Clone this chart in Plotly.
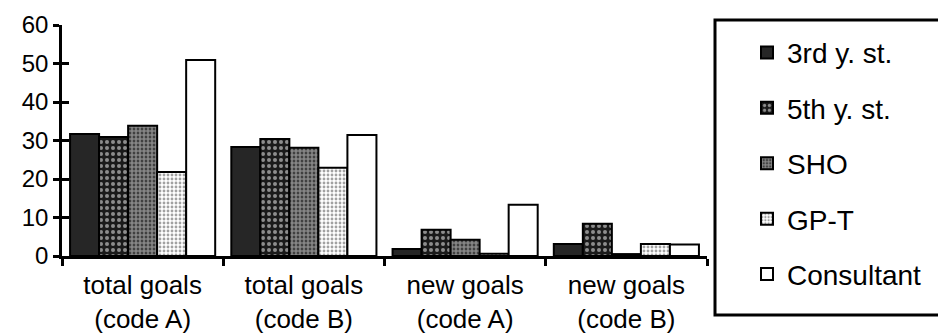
import plotly.graph_objects as go

categories = ["total goals<br>(code A)", "total goals<br>(code B)",
              "new goals<br>(code A)", "new goals<br>(code B)"]
series_names = ["3rd y. st.", "5th y. st.", "SHO", "GP-T", "Consultant"]
third_year = [31.7, 28.3, 1.8, 3.1]
fifth_year = [30.9, 30.4, 6.8, 8.4]
sho = [33.8, 28.1, 4.2, 0.5]
gp_t = [21.8, 22.9, 0.6, 3.1]
consultant = [50.9, 31.4, 13.3, 3.0]
y_ticks = [0, 10, 20, 30, 40, 50, 60]

series_values = [third_year, fifth_year, sho, gp_t, consultant]
patterns = [
    dict(shape="", bgcolor="#262626"),
    dict(shape=".", bgcolor="#1a1a1a", fgcolor="white", size=6, solidity=0.35, fillmode="overlay"),
    dict(shape=".", bgcolor="#222222", fgcolor="#e8e8e8", size=4, solidity=0.75, fillmode="overlay"),
    dict(shape=".", bgcolor="white", fgcolor="#444444", size=4, solidity=0.4, fillmode="overlay"),
    dict(shape="", bgcolor="white"),
]
colors = ["#262626", "#1a1a1a", "#222222", "white", "white"]

fig = go.Figure()
for i, (name, vals) in enumerate(zip(series_names, series_values)):
    fig.add_trace(go.Bar(
        x=categories, y=vals, name=name, legendgroup=name,
        marker=dict(color=colors[i], pattern=patterns[i],
                    line=dict(color="black", width=2)),
    ))

font_family = "Liberation Sans, Arial, Helvetica, sans-serif"

# page body has an 8px margin, so the figure is drawn 8px smaller
W, H = 938, 327
PL, PR, PT, PB = 54, 699, 17, 248
pw, ph = PR - PL, PB - PT

fig.update_layout(
    width=W, height=H,
    margin=dict(l=PL, r=W - PR, t=PT, b=H - PB, autoexpand=False),
    paper_bgcolor="white", plot_bgcolor="white",
    barmode="group", bargap=0.1, bargroupgap=0,
    font=dict(family=font_family, color="black"),
    showlegend=True,
    legend=dict(x=1.062, y=0.988, xanchor="left", yanchor="top",
                font=dict(size=28, family=font_family, color="black"),
                traceorder="grouped", tracegroupgap=16, maxheight=335,
                bgcolor="rgba(0,0,0,0)", borderwidth=0),
    xaxis=dict(showline=True, linecolor="black", linewidth=2.5,
               ticks="outside", ticklen=7, tickwidth=2.5, tickcolor="black",
               tickson="boundaries", showgrid=False, ticklabelstandoff=4,
               tickfont=dict(size=26, family=font_family, color="black")),
    yaxis=dict(range=[0, 60], tickvals=y_ticks, showline=True, linecolor="black",
               linewidth=2.5, ticks="outside", ticklen=6, tickwidth=2.5,
               tickcolor="black", showgrid=False, zeroline=False,
               tickfont=dict(size=24, family=font_family, color="black")),
    yaxis2=dict(range=[0, 60], tickvals=y_ticks, overlaying="y", side="left",
                showline=False, ticks="inside", ticklen=7, tickwidth=2.5,
                tickcolor="black", showticklabels=False, showgrid=False,
                zeroline=False),
    shapes=[dict(type="rect", xref="paper", yref="paper",
                 x0=(707 - PL) / pw, x1=(960 - PL) / pw,
                 y0=(PB - 307) / ph, y1=(PB - 12) / ph,
                 line=dict(color="black", width=3), fillcolor="rgba(0,0,0,0)")],
)
# invisible helper trace so yaxis2 is drawn (ticks on the inner side of the axis)
fig.add_trace(go.Scatter(x=[categories[0]], y=[0], yaxis="y2", mode="markers",
                         marker=dict(opacity=0), showlegend=False, hoverinfo="skip"))

fig.write_html("out.html")
